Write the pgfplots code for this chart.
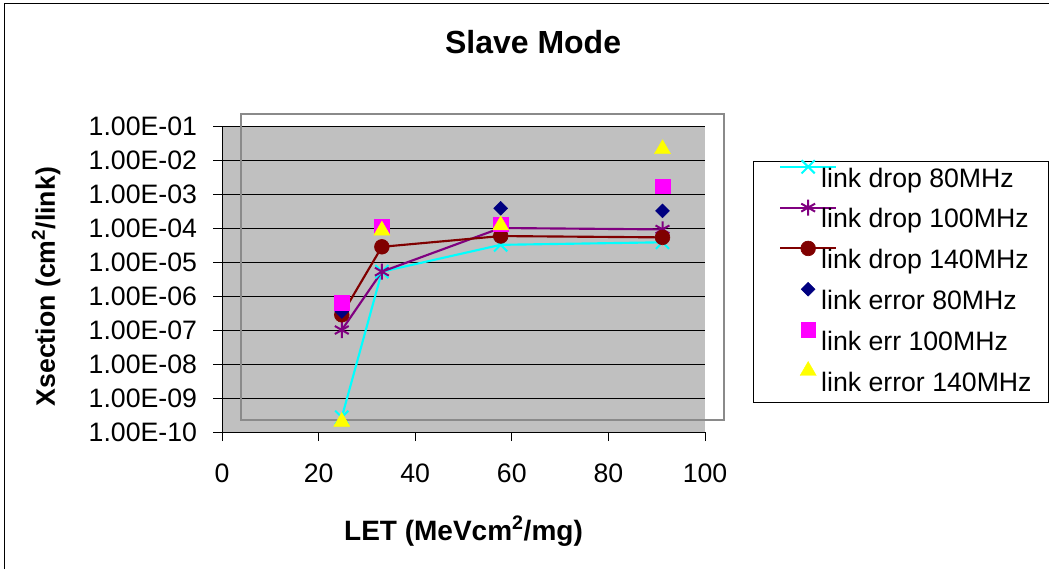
\documentclass[border=0pt]{standalone}
\usepackage{pgfplots}
\pgfplotsset{compat=1.18}
\usepackage{fontspec}
\setmainfont{Liberation Sans}
\definecolor{plotbg}{HTML}{C0C0C0}
\definecolor{xcyan}{HTML}{00FFFF}
\definecolor{xpurple}{HTML}{800080}
\definecolor{xdarkred}{HTML}{800000}
\definecolor{xnavy}{HTML}{000080}
\definecolor{xmagenta}{HTML}{FF00FF}
\definecolor{xyellow}{HTML}{FFFF00}
\definecolor{xborder}{HTML}{8A8A8A}
\pgfplotsset{
  lineleg/.style={legend image code/.code={%
    \path[draw=none,fill=none] (-7.5pt,-9pt) rectangle (30.75pt,9pt);
    \draw[overlay,##1,mark repeat=2,mark phase=2] plot coordinates {(0pt,10pt)(21pt,10pt)(42pt,10pt)};}},
  markleg/.style={legend image code/.code={%
    \path[draw=none,fill=none] (-7.5pt,-9pt) rectangle (30.75pt,9pt);
    \draw[overlay,##1] plot coordinates {(21pt,10pt)};}},
}
\begin{document}
\begin{tikzpicture}[x=0.75pt,y=0.75pt]
\useasboundingbox (0,0) rectangle (1049,569);
\draw[black,line width=0.75pt] (4,0) -- (4,565) -- (1049,565);
\begin{axis}[
  at={(166.5pt,102.75pt)}, anchor=south west,
  scale only axis, width=362.25pt, height=229.5pt,
  ymode=log, xmin=0, xmax=100, ymin=1e-10, ymax=1e-1,
  xtick={0,20,40,60,80,100},
  ytick={1e-10,1e-9,1e-8,1e-7,1e-6,1e-5,1e-4,1e-3,1e-2,1e-1},
  yticklabels={1.00E-10,1.00E-09,1.00E-08,1.00E-07,1.00E-06,1.00E-05,1.00E-04,1.00E-03,1.00E-02,1.00E-01},
  yminorticks=false, xminorticks=false,
  axis x line*=bottom, axis y line*=left,
  axis line style={black, line width=0.75pt},
  tick align=outside, major tick length=6.75pt,
  tick style={black, line width=0.75pt},
  ymajorgrids, grid style={black, line width=0.75pt},
  axis background/.style={fill=plotbg},
  /pgf/number format/assume math mode=true,
  ticklabel style={font=\fontsize{20}{24}\selectfont},
  xticklabel style={yshift=-14pt},
  yticklabel style={xshift=-8.5pt},
  title={Slave Mode},
  title style={font=\fontsize{24}{28}\selectfont\bfseries, at={(axis description cs:0.644,1.212)}, anchor=base},
  xlabel={LET (MeVcm\textsuperscript{2}/mg)},
  xlabel style={font=\fontsize{21}{25}\selectfont\bfseries, at={(axis description cs:0.5,-0.353)}, anchor=base},
  ylabel={Xsection (cm\textsuperscript{2}/link)},
  ylabel style={font=\fontsize{20}{24}\selectfont\bfseries, at={(axis description cs:-0.3458,0.475)}, anchor=base},
  clip=false,
  legend style={at={(axis description cs:1.0994,0.8846)}, anchor=north west,
    draw=black, line width=0.75pt, fill=white,
    font=\fontsize{20}{24}\selectfont,
    inner xsep=12.5pt, inner ysep=4pt, row sep=11.1pt, column sep=0pt,
    nodes={inner sep=0pt, fill=none, draw=none, text height=15pt, text depth=4.5pt}},
  legend cell align=left,
]
\draw[xborder, line width=1.6pt] (rel axis cs:0.0393,0.0392) rectangle (rel axis cs:1.0393,1.0392);

\addplot[xcyan, line width=1.6pt, mark=x, mark size=7pt, mark options={solid, line width=1.5pt}, lineleg]
  coordinates {(24.8,2.7e-10)(33.1,5.2e-6)(57.7,3.2e-5)(91.2,3.8e-5)};
\addlegendentry{link drop 80MHz}
\addplot[xpurple, line width=1.6pt, mark=asterisk, mark size=6pt, mark options={solid, line width=1.5pt}, lineleg]
  coordinates {(24.8,1.0e-7)(33.1,5.2e-6)(57.7,1.0e-4)(91.2,9.1e-5)};
\addlegendentry{link drop 100MHz}
\addplot[xdarkred, line width=1.6pt, mark=*, mark size=5.5pt, mark options={solid, fill=xdarkred, draw=xdarkred, line width=0.5pt}, lineleg]
  coordinates {(24.8,2.8e-7)(33.1,2.8e-5)(57.7,5.8e-5)(91.2,5.3e-5)};
\addlegendentry{link drop 140MHz}
\addplot[only marks, mark=square*, mark size=3.7pt, mark options={rotate=45, fill=xnavy, draw=xnavy, line width=0.3pt}, markleg]
  coordinates {(24.8,3.5e-7)(33.1,1.1e-4)(57.7,3.8e-4)(91.2,3.2e-4)};
\addlegendentry{link error 80MHz}
\addplot[only marks, mark=square*, mark size=5.5pt, mark options={fill=xmagenta, draw=xmagenta, line width=0.3pt}, markleg]
  coordinates {(24.8,6.3e-7)(33.1,1.1e-4)(57.7,1.3e-4)(91.2,1.7e-3)};
\addlegendentry{link err 100MHz}
\addplot[only marks, mark=triangle*, mark size=7pt, mark options={fill=xyellow, draw=xyellow, line width=0.3pt}, markleg]
  coordinates {(24.8,2.0e-10)(33.1,8.5e-5)(57.7,1.2e-4)(91.2,2.1e-2)};
\addlegendentry{link error 140MHz}
\end{axis}
\end{tikzpicture}
\end{document}
